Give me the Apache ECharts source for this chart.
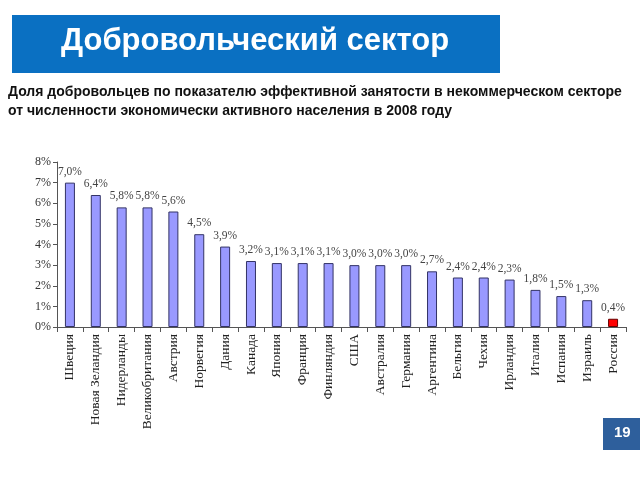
<!DOCTYPE html>
<html>
<head>
<meta charset="utf-8">
<script src="https://cdn.jsdelivr.net/npm/echarts@6/dist/echarts.min.js"></script>
<style>
  html, body { margin: 0; padding: 0; background: #fff; }
  #chart { width: 640px; height: 480px; }
</style>
</head>
<body>
<div id="chart"></div>
<script>
var countries = ['Швеция', 'Новая Зеландия', 'Нидерланды', 'Великобритания', 'Австрия', 'Норвегия',
  'Дания', 'Канада', 'Япония', 'Франция', 'Финляндия', 'США', 'Австралия', 'Германия',
  'Аргентина', 'Бельгия', 'Чехия', 'Ирландия', 'Италия', 'Испания', 'Израиль', 'Россия']
var shares = [7.0, 6.4, 5.8, 5.8, 5.6, 4.5, 3.9, 3.2, 3.1, 3.1, 3.1, 3.0, 3.0, 3.0,
  2.7, 2.4, 2.4, 2.3, 1.8, 1.5, 1.3, 0.4]
var highlight = 'Россия'
var yTicks = [0, 1, 2, 3, 4, 5, 6, 7, 8]

var chart = echarts.init(document.getElementById('chart'))

var barData = shares.map(function (v, i) {
  if (countries[i] === highlight) {
    return { value: v, itemStyle: { color: '#ff0000', borderColor: '#660000' } }
  }
  return v
})

chart.setOption({
  animation: false,
  backgroundColor: '#fff',
  graphic: [
    { type: 'rect', shape: { x: 12, y: 15, width: 488, height: 58 }, style: { fill: '#0a70c2' } },
    { type: 'text', left: 61, top: 26,
      style: { text: 'Добровольческий сектор', fill: '#fff', font: 'bold 31px "Liberation Sans", Arial, sans-serif' } },
    { type: 'text', left: 8, top: 83,
      style: { text: 'Доля добровольцев по показателю эффективной занятости в некоммерческом секторе\nот численности экономически активного населения в 2008 году',
        fill: '#111', lineHeight: 19, font: 'bold 14px "Liberation Sans", Arial, sans-serif' } },
    { type: 'rect', shape: { x: 603, y: 418, width: 40, height: 32 }, style: { fill: '#2e5f9c' } },
    { type: 'text', left: 614, top: 425,
      style: { text: '19', fill: '#fff', font: 'bold 15px "Liberation Sans", Arial, sans-serif' } }
  ],
  grid: { left: 57, right: 14, top: 162, bottom: 153 },
  xAxis: {
    type: 'category',
    data: countries,
    axisLine: { lineStyle: { color: '#555' } },
    axisTick: { show: true, alignWithLabel: false, length: 5, lineStyle: { color: '#555' } },
    axisLabel: {
      interval: 0, rotate: 90, margin: 7, color: '#222',
      fontFamily: '"Liberation Serif", "Times New Roman", serif', fontSize: 13.5
    }
  },
  yAxis: {
    type: 'value',
    min: yTicks[0],
    max: yTicks[yTicks.length - 1],
    interval: 1,
    splitLine: { show: false },
    axisLine: { show: true, lineStyle: { color: '#555' } },
    axisTick: { show: true, length: 4, lineStyle: { color: '#555' } },
    axisLabel: {
      margin: 6, color: '#333',
      fontFamily: '"Liberation Serif", "Times New Roman", serif', fontSize: 12,
      formatter: function (v) { return v + '%' }
    }
  },
  series: [{
    type: 'bar',
    data: barData,
    barWidth: 10,
    itemStyle: { color: '#9999ff', borderColor: '#333366', borderWidth: 1 },
    label: {
      show: true, position: 'top', distance: 5, color: '#444',
      fontFamily: '"Liberation Serif", "Times New Roman", serif', fontSize: 11.5,
      formatter: function (p) { return p.value.toFixed(1).replace('.', ',') + '%' }
    }
  }]
})
</script>
</body>
</html>
